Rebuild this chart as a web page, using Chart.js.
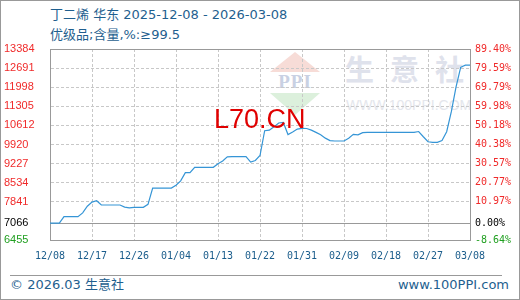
<!DOCTYPE html>
<html>
<head>
<meta charset="utf-8">
<script src="https://cdn.jsdelivr.net/npm/chart.js@4.4.1/dist/chart.umd.min.js"></script>
<style>
html,body{margin:0;padding:0;background:#fff;}
#wrap{position:relative;width:520px;height:300px;overflow:hidden;background:#fff;}
#frame{position:absolute;left:0;top:0;width:520px;height:300px;box-sizing:border-box;border:1px solid #999;z-index:5;}
canvas{position:absolute;left:0;top:0;z-index:2;}
.t{position:absolute;white-space:nowrap;font-family:"DejaVu Sans","Noto Sans CJK SC",sans-serif;color:#1f5f8f;}
#title1{left:50px;top:7px;font-size:13px;line-height:16px;}
#title2{left:50px;top:27px;font-size:13px;line-height:16px;}
#rule{position:absolute;left:10px;top:275px;width:492px;height:1px;background:#999;}
#foot1{left:10px;top:277px;font-size:13px;line-height:16px;}
#foot2{right:11px;top:277px;font-size:13px;line-height:16px;}
.wm{position:absolute;z-index:1;}
#triR{left:270px;top:52px;width:0;height:0;border-left:25px solid transparent;border-right:25px solid transparent;border-bottom:20px solid #f7dcd7;}
#triG{left:270px;top:93px;width:0;height:0;border-left:25px solid transparent;border-right:25px solid transparent;border-top:22px solid #dcf0dc;}
#ppi{left:268px;width:54px;top:73px;text-align:center;font:bold 19px/18px "Liberation Serif","DejaVu Serif",serif;color:#c9d1e3;letter-spacing:1px;}
#sys{left:345px;top:54px;font:bold 29px/29px "Noto Sans CJK SC",sans-serif;color:#dfe2ec;letter-spacing:16px;white-space:nowrap;}
#www{left:346px;top:98px;font:14px/14px "Liberation Sans",sans-serif;color:#e4e6ec;white-space:nowrap;}
#l70{position:absolute;z-index:3;left:214px;top:106px;font:27px/27px "Liberation Sans",Arial,sans-serif;color:#e00000;white-space:nowrap;}
</style>
</head>
<body>
<div id="wrap">
  <div class="t" id="title1">丁二烯 华东 2025-12-08 - 2026-03-08</div>
  <div class="t" id="title2">优级品;含量,%:≥99.5</div>
  <div class="wm" id="triR"></div>
  <div class="wm" id="ppi">PPI</div>
  <div class="wm" id="triG"></div>
  <div class="wm" id="sys">生意社</div>
  <div class="wm" id="www">WWW.100PPI.COM</div>
  <canvas id="c" width="520" height="300"></canvas>
  <div id="l70">L70.CN</div>
  <div id="rule"></div>
  <div class="t" id="foot1">© 2026.03 生意社</div>
  <div class="t" id="foot2">www.100PPI.com</div>
  <div id="frame"></div>
</div>
<script>
const baseValue = 7066;
const yMin = 6455;
const yMax = 13384;
const dayStep = 9;
const xTickLabels = ['12/08','12/17','12/26','01/04','01/13','01/22','01/31','02/09','02/18','02/27','03/08'];
const leftTickLabels = ['6455','7066','7841','8534','9227','9920','10612','11305','11998','12691','13384'];
const rightTickLabels = ['-8.64%','0.00%','10.97%','20.77%','30.57%','40.38%','50.18%','59.98%','69.79%','79.59%','89.40%'];
// daily prices, 2025-12-08 .. 2026-03-08
const values = [
  7066, 7066, 7066, 7300, 7300, 7300, 7300, 7440, 7680, 7830,
  7880, 7725, 7725, 7725, 7725, 7725, 7650, 7620, 7640, 7640,
  7640, 7750, 8340, 8340, 8340, 8340, 8340, 8440, 8600, 8897,
  8897, 9093, 9093, 9093, 9093, 9093, 9220, 9320, 9470, 9477,
  9477, 9477, 9477, 9280, 9340, 9520, 10420, 10440, 10560, 10700,
  10720, 10280, 10370, 10480, 10507, 10500, 10440, 10360, 10275, 10150,
  10060, 10047, 10047, 10047, 10150, 10290, 10270, 10350, 10362, 10362,
  10362, 10362, 10362, 10362, 10362, 10362, 10362, 10362, 10362, 10390,
  10200, 10020, 10000, 10000, 10060, 10384, 11110, 12000, 12720, 12800,
  12800
];

const red = '#f02a2a', green = '#1f9f1f';
const tickColor = ctx => ctx.index === 0 ? green : (ctx.tick && ctx.tick.value === baseValue ? '#000000' : red);
const ySolid = ctx => ctx.tick && (ctx.index === 0 || ctx.tick.value === baseValue || ctx.tick.value === yMax);
const xSolid = ctx => ctx.index === 0 || ctx.index === xTickLabels.length - 1;
const yTicks = s => { s.ticks = leftTickLabels.map(l => ({value: Number(l)})); };

new Chart(document.getElementById('c'), {
  type: 'line',
  data: {
    datasets: [{
      data: values.map((v, i) => ({x: i, y: v})),
      borderColor: '#3595d6',
      borderWidth: 1.2,
      pointRadius: 0,
      tension: 0,
      fill: false
    }]
  },
  options: {
    responsive: false,
    animation: false,
    devicePixelRatio: 1,
    layout: {padding: {left: 4, top: 49, right: 0, bottom: 0}},
    plugins: {legend: {display: false}, tooltip: {enabled: false}},
    scales: {
      x: {
        type: 'linear', min: 0, max: values.length - 1,
        afterBuildTicks: s => { s.ticks = xTickLabels.map((_, i) => ({value: i * dayStep})); },
        afterFit: s => { s.height = 60; },
        ticks: {callback: (v, i) => xTickLabels[i], color: '#1b5d8c', font: {family: 'DejaVu Sans Mono', size: 10}, padding: 10, maxRotation: 0, autoSkip: false},
        grid: {color: ctx => xSolid(ctx) ? '#999999' : '#c8c8c8', drawTicks: false, lineWidth: 1},
        border: {display: true, color: '#999999', dash: ctx => xSolid(ctx) ? [] : [3, 2]}
      },
      y: {
        type: 'linear', position: 'left', min: yMin, max: yMax,
        afterBuildTicks: yTicks,
        afterFit: s => { s.width = 46; },
        ticks: {callback: (v, i) => leftTickLabels[i], color: tickColor, font: {family: 'Liberation Sans', size: 11}, crossAlign: 'far', padding: 4, autoSkip: false},
        grid: {color: ctx => ySolid(ctx) ? '#999999' : '#c8c8c8', drawTicks: false, lineWidth: 1},
        border: {display: true, color: '#999999', dash: ctx => ySolid(ctx) ? [] : [3, 2]}
      },
      y2: {
        type: 'linear', position: 'right', min: yMin, max: yMax,
        afterBuildTicks: yTicks,
        afterFit: s => { s.width = 50; },
        ticks: {callback: (v, i) => rightTickLabels[i], color: tickColor, font: {family: 'DejaVu Sans Mono', size: 10}, crossAlign: 'near', padding: 5, autoSkip: false},
        grid: {display: false, drawTicks: false},
        border: {display: true, color: '#999999'}
      }
    }
  }
});
</script>
</body>
</html>
